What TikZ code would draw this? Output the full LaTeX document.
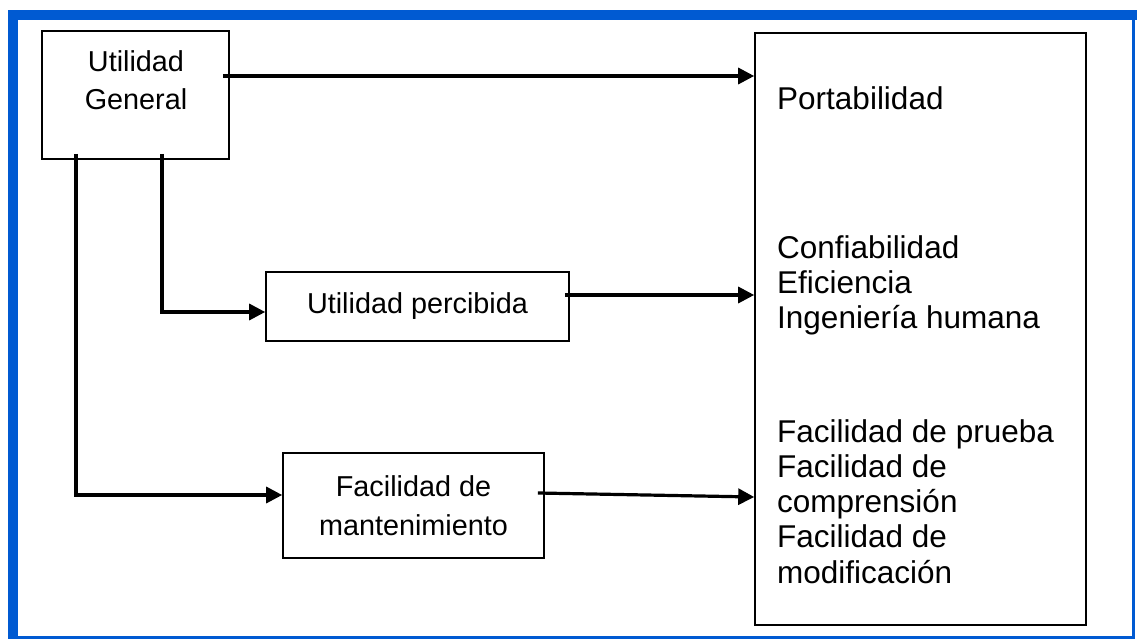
\documentclass[tikz,border=0pt]{standalone}
\usepackage{fontspec}
\setmainfont{Liberation Sans}
\usetikzlibrary{arrows.meta}
\definecolor{frameblue}{RGB}{0,90,210}
\begin{document}
\begin{tikzpicture}[x=1pt,y=1pt,
  box/.style={draw=black,line width=1.6pt,inner sep=0pt},
  boxtext/.style={font=\fontsize{28.8}{38.5}\selectfont,align=center,inner sep=0pt},
  listtext/.style={font=\fontsize{31.5}{35.3}\selectfont,align=left,anchor=base west,inner sep=0pt},
  arr/.style={line width=3.2pt,-{Triangle[length=16pt,width=16pt]}}]
\useasboundingbox (0,0) rectangle (1137,-639);
% blue frame
\fill[frameblue] (8,-10) rectangle (1137,-20);
\fill[frameblue] (8,-10) rectangle (18,-639);
\fill[frameblue] (1132,-10) rectangle (1135,-639);
\fill[frameblue] (8,-636) rectangle (1135,-639);

% boxes
\node[box,minimum width=187pt,minimum height=128pt] (ug) at (135.5,-95) {};
\node[boxtext] (ugt) at (136,-80) {Utilidad\\General};
\node[box,boxtext,minimum width=303pt,minimum height=69pt] (up) at (417.5,-306.5) {Utilidad percibida};
\node[box,boxtext,minimum width=261pt,minimum height=105pt] (fm) at (413.5,-505.5) {Facilidad de\\mantenimiento};
\node[box,minimum width=331pt,minimum height=592pt] (big) at (920.5,-329) {};

% attribute lists
\node[listtext] (port) at (777,-110) {Portabilidad};
\node[listtext] (conf) at (777,-258) {Confiabilidad};
\node[listtext] (efic) at (777,-293.3) {Eficiencia};
\node[listtext] (inge) at (777,-328.6) {Ingeniería humana};
\node[listtext] (fpru) at (777,-442) {Facilidad de prueba};
\node[listtext] (fcom1) at (777,-477.3) {Facilidad de};
\node[listtext] (fcom2) at (777,-512.6) {comprensión};
\node[listtext] (fmod1) at (777,-547.9) {Facilidad de};
\node[listtext] (fmod2) at (777,-583.2) {modificación};

% connectors
\draw[arr] ([xshift=-7pt,yshift=19pt]ug.east) -- ([yshift=19pt]ug.east -| big.west);
\draw[arr] ([xshift=26.5pt,yshift=6pt]ug.south) |- ([yshift=-5.5pt]up.west);
\draw[arr] ([xshift=-59.5pt,yshift=6pt]ug.south) |- ([yshift=10.5pt]fm.west);
\draw[arr] ([xshift=-5pt,yshift=11.5pt]up.east) -- ([yshift=11.5pt]up.east -| big.west);
\draw[arr] ([xshift=-7pt,yshift=12.5pt]fm.east) -- ([yshift=8.5pt]fm.east -| big.west);
\end{tikzpicture}
\end{document}
